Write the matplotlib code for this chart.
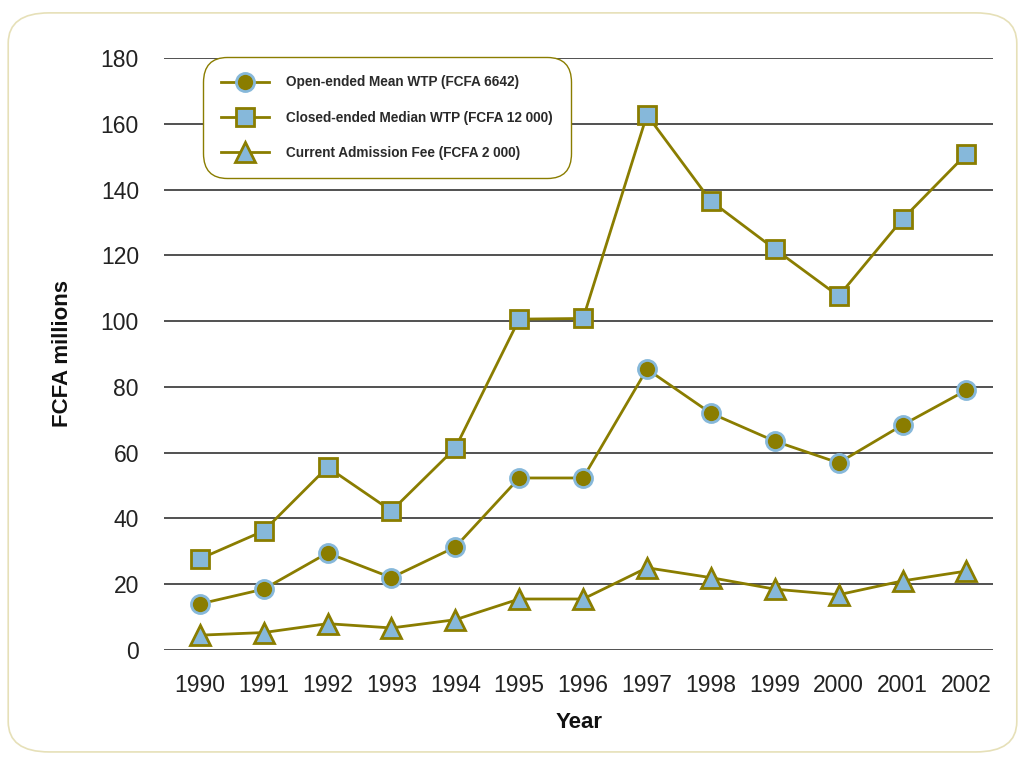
import matplotlib
matplotlib.use('Agg')
import matplotlib.pyplot as plt
from matplotlib.patches import FancyBboxPatch

plt.rcParams['font.family'] = ['Liberation Sans', 'DejaVu Sans']

years = [1990, 1991, 1992, 1993, 1994, 1995, 1996, 1997, 1998, 1999, 2000, 2001, 2002]
open_mean = [14, 18.5, 29.5, 22, 31.3, 52.3, 52.3, 85.4, 72, 63.5, 56.9, 68.4, 79]
closed_median = [27.7, 36.2, 55.6, 42.3, 61.4, 100.6, 100.8, 162.7, 136.5, 121.9, 107.6, 131, 150.8]
admission_fee = [4.5, 5.3, 8, 6.7, 9.2, 15.5, 15.5, 25, 22, 18.5, 16.8, 21, 24]
labels = ['Open-ended Mean WTP (FCFA 6642)',
          'Closed-ended Median WTP (FCFA 12 000)',
          'Current Admission Fee (FCFA 2 000)']

olive = '#8a7d00'
blue = '#86b8da'

fig = plt.figure(figsize=(10.25, 7.58), dpi=100)
# rounded outer frame, drawn behind the axes
frame = FancyBboxPatch((0.008, 0.008), 0.984, 0.975, boxstyle='round,pad=0,rounding_size=0.04',
                       transform=fig.transFigure, facecolor='white', edgecolor='#e6e0b8', lw=1.2,
                       zorder=-5)
fig.patches.append(frame)

ax = fig.add_axes([0.160, 0.1425, 0.809, 0.781])
ax.set_facecolor('none')

ax.plot(years, open_mean, color=olive, lw=2, marker='o', ms=13,
        markerfacecolor=olive, markeredgecolor=blue, markeredgewidth=2, label=labels[0])
ax.plot(years, closed_median, color=olive, lw=2, marker='s', ms=13,
        markerfacecolor=blue, markeredgecolor=olive, markeredgewidth=2, label=labels[1])
ax.plot(years, admission_fee, color=olive, lw=2, marker='^', ms=15,
        markerfacecolor=blue, markeredgecolor=olive, markeredgewidth=2, label=labels[2])

ax.set_xlim(1989.44, 2002.42)
ax.set_ylim(0, 180)
ax.set_yticks(range(0, 181, 20))
ax.set_xticks(years)
ax.yaxis.grid(True, color='#333333', lw=1.2)
ax.set_axisbelow(True)
for s in ax.spines.values():
    s.set_visible(False)
ax.tick_params(length=0, labelsize=16.5, colors='#222222')
ax.tick_params(axis='x', pad=17)
ax.tick_params(axis='y', pad=18)
ax.set_xlabel('Year', fontsize=16, fontweight='bold', labelpad=11, color='#111111')
ax.set_ylabel('FCFA millions', fontsize=16, fontweight='bold', labelpad=20, color='#111111')

leg = ax.legend(loc='upper left', bbox_to_anchor=(0.05, 0.997), frameon=True,
                prop={'size': 9.8, 'weight': 'bold'},
                handlelength=3.5, labelspacing=1.55, borderpad=1.15, handletextpad=1.3,
                borderaxespad=0)
for t in leg.get_texts():
    t.set_color('#2a2a2a')
fr = leg.get_frame()
fr.set_edgecolor(olive)
fr.set_linewidth(1)
fr.set_boxstyle('round,pad=0.2,rounding_size=1.8')
fr.set_alpha(1)

fig.savefig('out.png', dpi=100)
